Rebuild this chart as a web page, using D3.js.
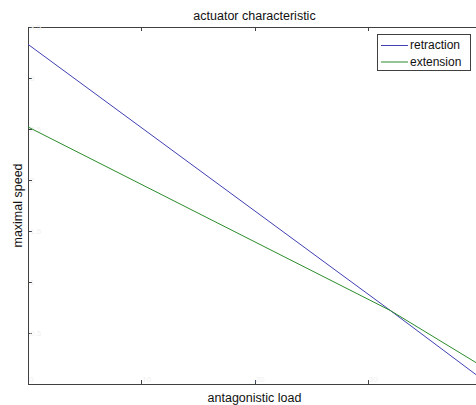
<!DOCTYPE html>
<html>
<head>
<meta charset="utf-8">
<script src="https://cdn.jsdelivr.net/npm/d3@7"></script>
<style>
  body { margin: 0; background: #fff; overflow: hidden; }
  svg { display: block; font-family: "Liberation Sans", Arial, sans-serif; }
</style>
</head>
<body>
<div id="chart"></div>
<script>
// values
var loadVals = [0, 32, 40];
var retraction = [3.33, 0.72, 0.055];
var extension = [2.52, 0.72, 0.18];
var xTicks = [0, 10, 20, 30, 40];
var yTicks = [0, 0.5, 1, 1.5, 2, 2.5, 3, 3.5];
var seriesNames = ["retraction", "extension"];
var seriesColors = ["#4040b4", "#2a8c2a"];

var width = 476, height = 405;
var plotLeft = 28, plotTop = 27, plotBottom = 384, plotRight = 481;

var svg = d3.select("#chart").append("svg")
    .attr("width", width)
    .attr("height", height);

var xScale = d3.scaleLinear().domain([0, 40]).range([plotLeft, plotRight]);
var yScale = d3.scaleLinear().domain([0, 3.5]).range([plotBottom, plotTop]);

var axisColor = "#404040";

// axes box with inward ticks
svg.append("rect")
    .attr("x", plotLeft + 0.5)
    .attr("y", plotTop + 0.5)
    .attr("width", plotRight - plotLeft)
    .attr("height", plotBottom - plotTop)
    .attr("fill", "white")
    .attr("stroke", axisColor)
    .attr("stroke-width", 1);

var g = svg.append("g");

xTicks.forEach(function (t) {
    var x = Math.round(xScale(t)) + 0.5;
    g.append("line").attr("x1", x).attr("x2", x)
        .attr("y1", plotBottom).attr("y2", plotBottom - 4).attr("stroke", axisColor);
    g.append("line").attr("x1", x).attr("x2", x)
        .attr("y1", plotTop).attr("y2", plotTop + 4).attr("stroke", axisColor);
    // the last label falls outside the window, as in the picture
    if (xScale(t) < width - 10) {
        g.append("text")
            .attr("x", xScale(t) + 1)
            .attr("y", plotBottom - 2)
            .attr("font-size", 8)
            .attr("fill", "#f0f0f0")
            .text(t);
    }
});

yTicks.forEach(function (t) {
    var y = Math.round(yScale(t)) + 0.5;
    g.append("line").attr("x1", plotLeft).attr("x2", plotLeft + 4)
        .attr("y1", y).attr("y2", y).attr("stroke", axisColor);
    if (t > 0) {
        g.append("text")
            .attr("x", plotLeft + 2)
            .attr("y", yScale(t) + 3)
            .attr("font-size", 8)
            .attr("fill", "#f0f0f0")
            .text(t);
    }
});

// lines
var line = d3.line()
    .x(function (d) { return xScale(d[0]); })
    .y(function (d) { return yScale(d[1]); });

[retraction, extension].forEach(function (vals, i) {
    var pts = loadVals.map(function (x, j) { return [x, vals[j]]; });
    svg.append("path")
        .attr("d", line(pts))
        .attr("fill", "none")
        .attr("stroke", seriesColors[i])
        .attr("stroke-width", 1);
});

// title and labels
svg.append("text")
    .attr("x", (plotLeft + plotRight) / 2)
    .attr("y", 20)
    .attr("text-anchor", "middle")
    .attr("font-size", 12.5)
    .attr("fill", "#111")
    .text("actuator characteristic");

svg.append("text")
    .attr("x", (plotLeft + plotRight) / 2)
    .attr("y", 402)
    .attr("text-anchor", "middle")
    .attr("font-size", 12.5)
    .attr("fill", "#111")
    .text("antagonistic load");

svg.append("text")
    .attr("transform", "translate(22," + ((plotTop + plotBottom) / 2) + ") rotate(-90)")
    .attr("text-anchor", "middle")
    .attr("font-size", 12.5)
    .attr("fill", "#111")
    .text("maximal speed");

// legend
var legend = svg.append("g").attr("transform", "translate(377,34)");
legend.append("rect")
    .attr("x", 0.5).attr("y", 0.5)
    .attr("width", 93).attr("height", 36)
    .attr("fill", "white")
    .attr("stroke", axisColor);

seriesNames.forEach(function (name, i) {
    var yy = 11 + i * 16.5;
    legend.append("line")
        .attr("x1", 4).attr("x2", 31)
        .attr("y1", yy + 0.5).attr("y2", yy + 0.5)
        .attr("stroke", seriesColors[i]);
    legend.append("text")
        .attr("x", 33)
        .attr("y", yy + 4)
        .attr("font-size", 12)
        .attr("fill", "#111")
        .text(name);
});
</script>
</body>
</html>
